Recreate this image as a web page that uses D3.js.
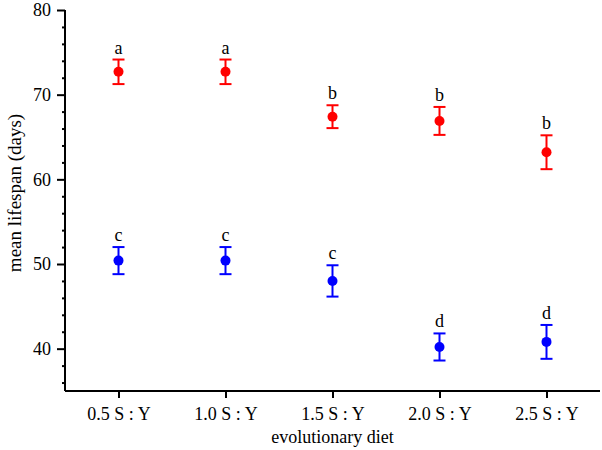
<!DOCTYPE html>
<html>
<head>
<meta charset="utf-8">
<script src="https://cdn.jsdelivr.net/npm/d3@7"></script>
<style>
  body { margin: 0; background: #fff; }
</style>
</head>
<body>
<svg width="602" height="450"></svg>
<script>
// data
var diets = ["0.5 S : Y", "1.0 S : Y", "1.5 S : Y", "2.0 S : Y", "2.5 S : Y"];
var redMean = [72.7, 72.7, 67.4, 66.9, 63.2];
var redErr = [1.45, 1.45, 1.35, 1.65, 2.0];
var redLetters = ["a", "a", "b", "b", "b"];
var blueMean = [50.4, 50.4, 48.0, 40.2, 40.8];
var blueErr = [1.6, 1.6, 1.85, 1.6, 2.0];
var blueLetters = ["c", "c", "c", "d", "d"];
var yTicks = [40, 50, 60, 70, 80];

var serif = "'Liberation Serif', 'Times New Roman', Times, 'DejaVu Serif', serif";

var svg = d3.select("svg"),
    padL = 65, padR = 600, padT = 10, padB = 391;

var x = d3.scalePoint().domain(diets).range([padL, padR]).padding(0.5);
var y = d3.scaleLinear().domain([35, 80]).range([padB, padT]);

// y axis: major ticks every 10, minor every 2
var yAxis = svg.append("g")
    .attr("transform", "translate(" + padL + ",0)")
    .call(d3.axisLeft(y).tickValues(d3.range(36, 81, 2)).tickSize(3).tickFormat(""));
var major = yAxis.selectAll(".tick")
    .filter(function(d) { return yTicks.indexOf(d) >= 0; });
major.select("line").attr("x2", -8);
major.select("text").attr("x", -14).text(function(d) { return d; });
yAxis.select(".domain").attr("d", "M0," + padT + "V" + padB);

var xAxis = svg.append("g")
    .attr("transform", "translate(0," + padB + ")")
    .call(d3.axisBottom(x).tickSize(7).tickPadding(0));
xAxis.select(".domain").attr("d", "M" + padL + ",0H" + padR);
xAxis.selectAll(".tick text").attr("dy", null).attr("y", 29);

svg.selectAll("g").attr("font-family", serif);
svg.selectAll(".domain, .tick line").attr("stroke", "#000").attr("stroke-width", 2);
svg.selectAll(".tick text").attr("font-size", 18).attr("fill", "#000");

svg.append("text")
    .attr("x", (padL + padR) / 2).attr("y", 443)
    .attr("text-anchor", "middle").attr("font-size", 18)
    .attr("font-family", serif)
    .text("evolutionary diet");

svg.append("text")
    .attr("transform", "translate(21,193) rotate(-90)")
    .attr("text-anchor", "middle").attr("font-size", 19)
    .attr("font-family", serif)
    .text("mean lifespan (days)");

function drawSeries(means, errs, letters, color) {
  var pts = diets.map(function(d, i) {
    return { cat: d, m: means[i], e: errs[i], l: letters[i] };
  });
  var grp = svg.append("g").selectAll("g").data(pts).enter().append("g");

  grp.append("line")
     .attr("x1", function(d) { return x(d.cat); })
     .attr("x2", function(d) { return x(d.cat); })
     .attr("y1", function(d) { return y(d.m + d.e); })
     .attr("y2", function(d) { return y(d.m - d.e); })
     .attr("stroke", color).attr("stroke-width", 2);

  [1, -1].forEach(function(s) {
    grp.append("line")
       .attr("x1", function(d) { return x(d.cat) - 6; })
       .attr("x2", function(d) { return x(d.cat) + 6; })
       .attr("y1", function(d) { return y(d.m + s * d.e); })
       .attr("y2", function(d) { return y(d.m + s * d.e); })
       .attr("stroke", color).attr("stroke-width", 2);
  });

  grp.append("circle")
     .attr("cx", function(d) { return x(d.cat); })
     .attr("cy", function(d) { return y(d.m); })
     .attr("r", 5)
     .attr("fill", color);

  grp.append("text")
     .attr("x", function(d) { return x(d.cat); })
     .attr("y", function(d) { return y(d.m + d.e) - 6; })
     .attr("text-anchor", "middle").attr("font-size", 18)
     .attr("font-family", serif)
     .text(function(d) { return d.l; });
}

drawSeries(redMean, redErr, redLetters, "#ff0000");
drawSeries(blueMean, blueErr, blueLetters, "#0000ff");
</script>
</body>
</html>
